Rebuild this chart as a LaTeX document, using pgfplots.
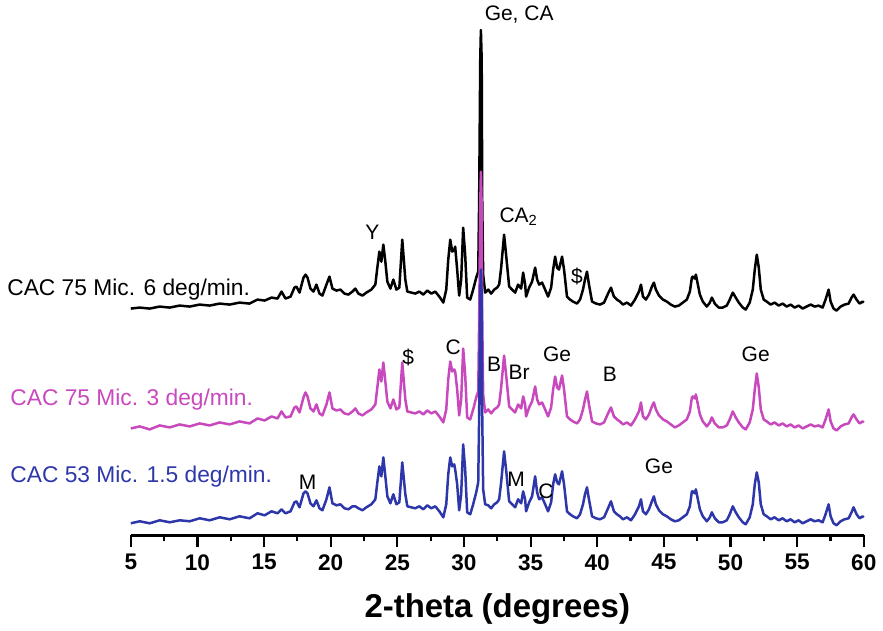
\documentclass[border=0pt]{standalone}
\usepackage{pgfplots}
\pgfplotsset{compat=1.18}
\usepackage{pgfplotstable}
\usepackage{fontspec}
\setmainfont{Liberation Sans}

\definecolor{trmag}{RGB}{200,72,190}
\definecolor{trblu}{RGB}{45,55,170}

% 2-theta, then the three stacked patterns (offset intensities)
\pgfplotstableread{
x blk mag blu
5.00 227 107 12
5.67 228 109 14
6.42 227 106 12
7.17 229 110 15
7.92 228 108 13
8.67 230 111 15
9.42 229 109 14
10.17 231 112 17
10.92 230 110 15
11.67 232 113 18
12.42 231 111 16
13.16 233 114 19
13.91 232 112 17
14.51 236 117 22
15.04 235 115 20
15.56 238 119 24
16.01 237 117 22
16.31 244 124 26
16.61 237 118 22
16.99 239 119 24
17.28 248 128 33
17.43 249 129 34
17.66 243 123 28
17.96 258 138 42
18.11 261 143 44
18.26 258 139 42
18.48 247 127 32
18.71 244 124 29
18.93 251 131 35
19.16 242 122 27
19.38 240 120 25
19.68 251 131 36
19.91 259 143 48
20.13 247 127 32
20.43 245 125 30
20.73 246 126 31
21.03 242 122 27
21.33 241 121 26
21.63 244 124 29
21.85 247 127 29
22.08 242 122 27
22.38 240 120 25
22.68 243 123 28
23.05 246 126 31
23.35 251 131 36
23.50 268 148 53
23.65 284 166 69
23.80 274 154 59
23.95 291 173 78
24.10 274 154 59
24.25 254 134 39
24.48 247 127 32
24.70 256 136 41
24.93 246 126 31
25.15 248 128 33
25.37 296 173 73
25.60 256 136 41
25.75 244 124 29
26.05 243 123 28
26.35 242 122 27
26.65 244 124 29
26.95 241 121 26
27.25 245 125 30
27.55 242 122 27
27.85 244 124 29
28.15 239 119 24
28.45 233 113 18
28.67 246 126 31
28.82 276 156 61
28.97 296 174 78
29.12 284 164 69
29.27 286 166 71
29.34 289 164 66
29.49 266 146 51
29.64 240 120 25
29.79 256 136 41
29.94 308 187 91
30.09 281 161 66
30.24 238 118 23
30.47 236 116 21
30.69 246 126 31
30.92 258 138 43
31.07 264 144 53
31.14 336 216 121
31.22 476 330 240
31.27 506 364 266
31.33 476 330 240
31.37 336 216 121
31.44 261 141 46
31.59 243 123 31
31.82 246 126 30
32.04 242 122 27
32.27 246 126 31
32.49 248 128 33
32.64 251 131 36
32.79 268 148 53
33.01 301 180 84
33.16 281 161 66
33.39 249 129 34
33.61 246 126 31
33.84 243 123 28
34.06 251 131 36
34.29 247 127 32
34.44 263 139 44
34.59 251 131 36
34.66 239 119 24
34.89 248 128 33
35.11 254 134 39
35.34 268 149 59
35.49 256 136 43
35.64 251 131 36
35.86 253 133 38
36.09 246 126 31
36.31 239 119 24
36.54 248 128 33
36.69 266 146 51
36.84 279 159 61
36.99 268 148 53
37.13 266 146 51
37.36 279 160 64
37.51 266 146 51
37.73 239 119 24
37.96 236 116 21
38.18 234 114 19
38.48 232 112 17
38.71 236 116 21
38.93 246 126 31
39.08 256 136 41
39.23 264 144 48
39.38 251 131 36
39.61 234 114 19
39.91 232 112 17
40.21 231 111 16
40.51 233 113 18
40.81 242 122 27
41.03 248 128 34
41.25 239 119 24
41.48 236 116 21
41.70 234 114 19
41.93 231 111 16
42.23 233 113 18
42.53 230 110 15
42.83 236 116 21
43.13 244 124 29
43.28 251 133 36
43.43 239 119 24
43.65 236 116 21
43.88 241 121 26
44.10 249 129 34
44.25 253 133 39
44.40 246 126 31
44.63 240 120 25
44.93 236 116 21
45.22 234 114 19
45.52 231 111 16
45.82 229 108 14
46.12 230 110 15
46.42 233 113 18
46.72 236 116 21
46.95 244 124 29
47.10 258 138 44
47.17 259 139 44
47.32 257 137 42
47.40 261 141 46
47.55 251 131 36
47.70 241 121 26
47.92 234 114 19
48.22 229 109 14
48.45 233 113 18
48.60 238 118 23
48.82 232 112 17
49.12 228 108 13
49.42 228 108 13
49.72 230 110 15
49.94 236 116 21
50.17 243 124 29
50.39 238 118 23
50.62 233 113 18
50.92 228 108 13
51.14 226 106 11
51.44 233 113 18
51.67 246 126 31
51.82 266 146 51
51.97 281 162 63
52.12 268 148 53
52.27 246 126 31
52.49 236 116 21
52.72 234 114 19
53.01 231 111 16
53.31 233 113 18
53.61 230 110 15
53.91 232 112 17
54.21 229 109 14
54.51 231 111 16
54.81 228 108 13
55.11 230 110 15
55.41 227 107 12
55.71 229 109 14
56.01 231 111 16
56.31 229 109 14
56.61 230 110 15
56.91 228 108 13
57.13 236 116 21
57.36 246 126 31
57.51 234 114 19
57.73 227 107 12
57.96 225 105 10
58.26 229 109 14
58.56 231 111 16
58.86 232 112 17
59.08 238 118 23
59.23 241 121 28
59.46 236 116 21
59.68 232 112 17
59.91 234 114 19
60.00 233 113 18
}\xrd

\begin{document}
\begin{tikzpicture}
\begin{axis}[
  scale only axis,
  width=367pt, height=268pt,
  xmin=5, xmax=60, ymin=0, ymax=536,
  axis x line=bottom, axis y line=none,
  axis line style={-, line width=1.3pt},
  xtick={5,10,...,60}, minor x tick num=1, ytick=\empty,
  tick align=outside,
  major tick length=6pt, minor tick length=3pt,
  every tick/.style={line width=1.1pt, black},
  xticklabel style={font=\bfseries\fontsize{11.3}{13}\selectfont},
  /pgf/number format/assume math mode=true,
  xlabel={2-theta (degrees)},
  xlabel style={font=\bfseries\fontsize{16.5}{19}\selectfont,
    at={(axis description cs:0.5,-0.137)}, anchor=center},
  clip=false,
  every axis plot/.append style={line width=1.25pt, line join=round},
]
% page frame
\path (axis cs:-4.813,-95) rectangle (axis cs:61.33,536);

\addplot[black] table[x=x, y=blk] {\xrd};
\addplot[trmag] table[x=x, y=mag] {\xrd};
\addplot[trblu] table[x=x, y=blu] {\xrd};

% sample names
\begin{scope}[every node/.style={font=\fontsize{11.4}{13}\selectfont, anchor=west, inner sep=0pt}]
\node[text=black] at (axis cs:-4.29,246) {CAC 75 Mic. 6 deg/min.};
\node[text=trmag] at (axis cs:-4.06,136) {CAC 75 Mic. 3 deg/min.};
\node[text=trblu] at (axis cs:-4.06,59) {CAC 53 Mic. 1.5 deg/min.};
\end{scope}

% phase markers
\begin{scope}[every node/.style={font=\fontsize{10.5}{12}\selectfont, inner sep=0pt, text=black}]
\node at (axis cs:34.14,521) {Ge, CA};
\node at (axis cs:23.13,303) {Y};
\node[anchor=west] at (axis cs:32.64,319) {CA\textsubscript{2}};
\node at (axis cs:38.48,259) {\$};
\node at (axis cs:25.82,178) {\$};
\node at (axis cs:29.19,188) {C};
\node at (axis cs:32.27,171) {B};
\node at (axis cs:34.14,163) {Br};
\node at (axis cs:36.98,181) {Ge};
\node at (axis cs:40.95,161) {B};
\node at (axis cs:51.89,181) {Ge};
\node at (axis cs:18.26,53) {M};
\node at (axis cs:33.91,56) {M};
\node at (axis cs:36.16,44) {C};
\node at (axis cs:44.63,69) {Ge};
\end{scope}
\end{axis}
\end{tikzpicture}
\end{document}
